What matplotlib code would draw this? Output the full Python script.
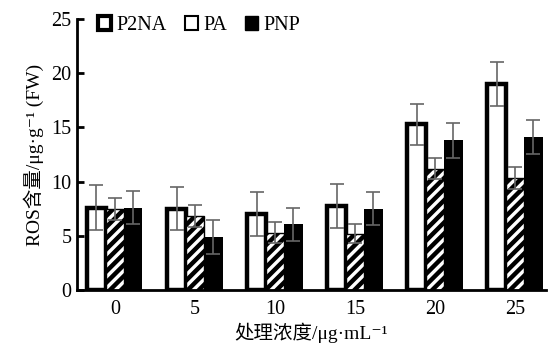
import numpy as np
import matplotlib
matplotlib.use("Agg")
import matplotlib.pyplot as plt
from matplotlib.patches import Patch

plt.rcParams['font.family'] = ['Liberation Serif', 'DejaVu Serif', 'Noto Sans CJK SC']
plt.rcParams['hatch.linewidth'] = 3.2

concentrations = ['0', '5', '10', '15', '20', '25']
series_names = ['P2NA', 'PA', 'PNP']
p2na = [7.6, 7.5, 7.0, 7.75, 15.3, 19.0]
p2na_err = [2.1, 2.0, 2.0, 2.0, 1.9, 2.0]
pa = [7.5, 6.8, 5.3, 5.2, 11.2, 10.3]
pa_err = [1.0, 1.0, 1.0, 0.9, 0.95, 1.0]
pnp = [7.6, 4.9, 6.05, 7.5, 13.8, 14.1]
pnp_err = [1.5, 1.6, 1.5, 1.5, 1.6, 1.6]

fig = plt.figure(figsize=(5.49, 3.46), dpi=100)
ax = fig.add_axes([0.140, 0.162, 0.855, 0.783])

x = np.arange(len(concentrations))
w = 0.23
err_kw = dict(ecolor='#666666', elinewidth=1.2, capsize=5, capthick=1.2, zorder=5)

ax.bar(x - w, p2na, w, facecolor='white', edgecolor='black', linewidth=3.2, zorder=2)
ax.bar(x, pa, w, facecolor='white', edgecolor='black', linewidth=1.0, hatch='///', zorder=2)
ax.bar(x + w, pnp, w, facecolor='black', edgecolor='black', linewidth=0, zorder=2)

ax.errorbar(x - w, p2na, yerr=p2na_err, fmt='none', **err_kw)
ax.errorbar(x, pa, yerr=pa_err, fmt='none', **err_kw)
ax.errorbar(x + w, pnp, yerr=pnp_err, fmt='none', **err_kw)

ax.set_xlim(-0.475, 5.39)
ax.set_ylim(0, 25)
ax.set_yticks([0, 5, 10, 15, 20, 25])
ax.set_xticks(x)
ax.set_xticklabels(concentrations)
ax.tick_params(axis='y', direction='in', length=5, width=2, labelsize=14.5, pad=4)
ax.tick_params(axis='x', length=0, labelsize=14.5, pad=7)

for side in ['top', 'right']:
    ax.spines[side].set_visible(False)
for side in ['left', 'bottom']:
    ax.spines[side].set_linewidth(2)

ax.set_ylabel('ROS含量/μg·g⁻¹ (FW)', fontsize=14, labelpad=5)
ax.set_xlabel('处理浓度/μg·mL⁻¹', fontsize=14, labelpad=3)

handles = [
    Patch(facecolor='white', edgecolor='black', linewidth=3),
    Patch(facecolor='white', edgecolor='black', linewidth=1.5),
    Patch(facecolor='black', edgecolor='black'),
]
ax.legend(handles, series_names, loc='upper left', bbox_to_anchor=(0.02, 1.055),
          ncol=3, frameon=False, fontsize=14.5, handlelength=0.65, handleheight=0.65,
          handletextpad=0.25, columnspacing=0.9, borderaxespad=0.2)

fig.savefig('out.png', dpi=100)
